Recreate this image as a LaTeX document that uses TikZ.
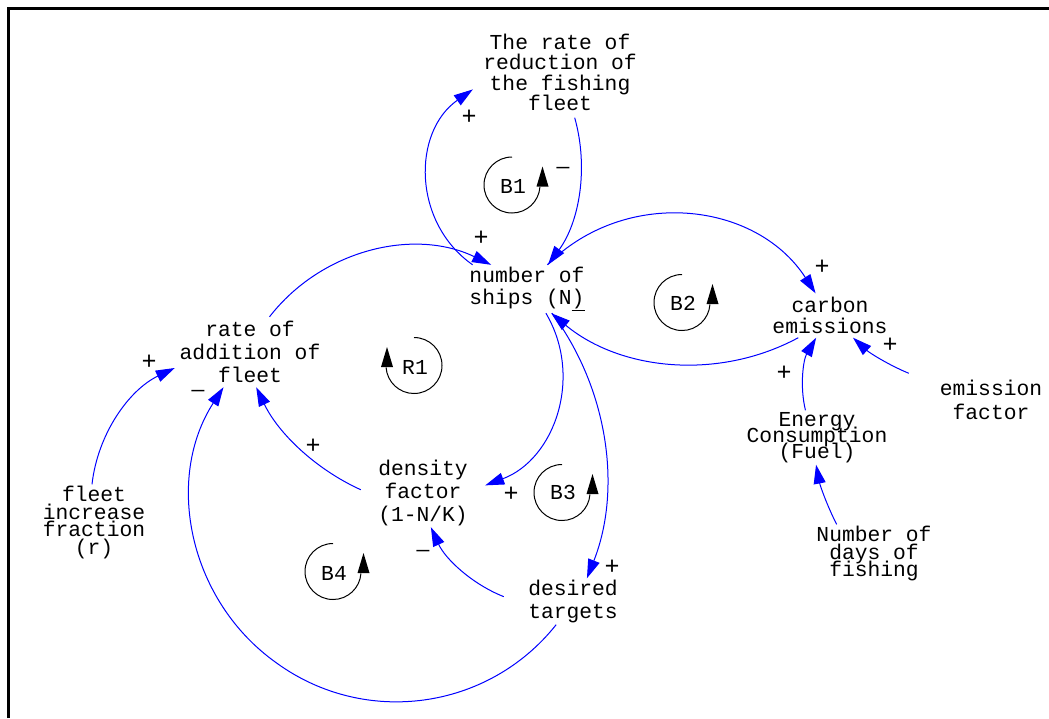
\documentclass[tikz,border=0pt]{standalone}
\usepackage{fontspec}
\newfontfamily\vmono{Liberation Mono}
\usetikzlibrary{arrows.meta}
\begin{document}
\begin{tikzpicture}[x=1pt,y=1pt,
  var/.style={shape=rectangle, inner sep=0pt, align=center, font={\vmono\fontsize{21.3}{#1}\selectfont\lineskiplimit=-60pt\lineskip=0pt}},
  lp/.style={inner sep=0pt, font=\vmono\fontsize{21.3}{21}\selectfont},
  pol/.style={inner sep=0pt, font=\vmono\fontsize{25}{25}\selectfont},
  neg/.style={inner sep=0pt, font=\vmono\fontsize{21.3}{21}\selectfont},
  conn/.style={draw=blue, line width=1pt, -{Triangle[length=19pt,width=12pt]}, fill=none},
  bloop/.pic={\draw[line width=1pt] (90:28) arc[start angle=90,end angle=356,radius=28];
              \fill (24.5,-1.5) -- (36.5,-1.5) -- (30.5,18.5) -- cycle;},
  rloop/.pic={\draw[line width=1pt] (90:28) arc[start angle=90,end angle=-176,radius=28];
              \fill (-21,-1.5) -- (-33,-1.5) -- (-27,18.5) -- cycle;}
]
\useasboundingbox (0,0) rectangle (1049,-718);
\draw[line width=3pt] (8.5,-718) -- (8.5,-8.5) -- (1049,-8.5);

% variables
\node[var=20.5, minimum width=174pt, minimum height=90pt] (T) at (560,-72.5) {The rate of\\reduction of\\the fishing\\fleet};
\node[var=21.7, minimum width=124pt, minimum height=48pt] (N) at (527,-289) {number of\\ships (N\underline{)}};
\node[var=21, minimum width=124pt, minimum height=44pt] (C) at (830,-315.5) {carbon\\emissions};
\node[var=23.3, minimum width=164pt, minimum height=60pt] (E) at (991,-400) {emission\\factor};
\node[var=16, minimum width=144pt, minimum height=54pt] (F) at (817,-437.5) {Energy\\Consumption\\(Fuel)};
\node[var=17.5, minimum width=120pt, minimum height=58pt] (D) at (874,-553.5) {Number of\\days of\\fishing};
\node[var=22.8, minimum width=150pt, minimum height=70pt] (A) at (250,-352) {rate of\\addition of\\fleet};
\node[var=17.8, minimum width=110pt, minimum height=76pt] (R) at (94,-522.5) {fleet\\increase\\fraction\\(r)};
\node[var=22.8, minimum width=124pt, minimum height=68pt] (DF) at (423,-493) {density\\factor\\(1-N/K)};
\node[var=23.3, minimum width=138pt, minimum height=46pt] (DT) at (573,-601.5) {desired\\targets};
\coordinate (jmid) at (276.6,-663);

% connectors
\draw[conn] (N.156) to[bend left=55, looseness=1.08] (T.191);
\draw[conn] (T.288) to[bend left=26, looseness=0.9] (N.49);
\draw[conn] (A.61) to[bend left=39, looseness=0.96] (N.146);
\draw[conn] (N.50) to[bend left=51, looseness=1.045] (C.123);
\draw[conn] (C.215) to[bend left=34, looseness=0.93] (N.315);
\draw[conn] (E.162) to[bend left=10, looseness=0.86] (C.316);
\draw[conn] (F.113) to[bend left=22, looseness=0.88] (C.238);
\draw[conn] (D.142) to[bend left=8, looseness=0.86] (F.268);
\draw[conn] (R.93) to[bend left=29, looseness=0.91] (A.192);
\draw[conn] (DT.234) to[bend left=43.75, looseness=0.99] (jmid) to[bend left=43.75, looseness=0.99] (A.233);
\draw[conn] (DF.177) to[bend left=20, looseness=0.88] (A.280);
\draw[conn] (N.308) to[bend left=50, looseness=1.04] (DF.7);
\draw[conn] (N.316) to[bend left=29, looseness=0.91] (DT.59);
\draw[conn] (DT.176) to[bend left=22, looseness=0.88] (DF.283);

% polarities
\node[pol] (pa) at (469,-117) {+};
\node[neg] (pb) at (563,-170) {—};
\node[pol] (pc) at (481,-238) {+};
\node[pol] (pd) at (822,-267) {+};
\node[pol] (pf) at (890,-345) {+};
\node[pol] (pg) at (784,-373) {+};
\node[pol] (pi) at (149,-362) {+};
\node[neg] (pj) at (198,-393) {—};
\node[pol] (pk) at (313,-446) {+};
\node[pol] (pl) at (511,-494) {+};
\node[pol] (pm) at (612,-567) {+};
\node[neg] (pn) at (423,-553) {—};

% loop markers
\node[lp] (B1) at (513,-186) {B1};
\node[lp] (B2) at (683,-303) {B2};
\node[lp] (B3) at (563,-492) {B3};
\node[lp] (B4) at (334,-573) {B4};
\node[lp] (R1) at (415,-367) {R1};
\pic at (512,-185) {bloop};
\pic at (682,-302.5) {bloop};
\pic at (562,-492.5) {bloop};
\pic at (333,-571.5) {bloop};
\pic at (414,-365.5) {rloop};
\end{tikzpicture}
\end{document}
